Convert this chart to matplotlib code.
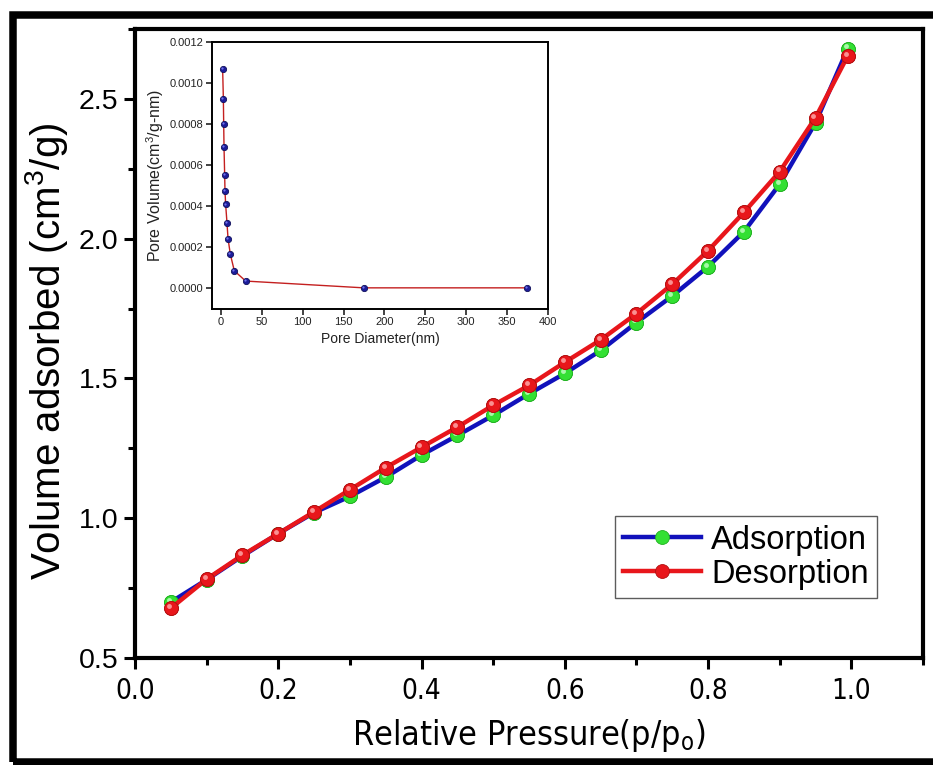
import matplotlib
matplotlib.use("Agg")
import matplotlib.pyplot as plt
from matplotlib import font_manager
from matplotlib.patches import Rectangle
from matplotlib.ticker import MultipleLocator, FormatStrFormatter
from matplotlib.transforms import offset_copy

plt.rcParams['font.family'] = ['Liberation Sans', 'DejaVu Sans']
plt.rcParams['mathtext.fontset'] = 'custom'
plt.rcParams['mathtext.rm'] = 'Liberation Sans'

# isotherm data
rel_pressure = [0.05, 0.10, 0.15, 0.20, 0.25, 0.30, 0.35, 0.40, 0.45, 0.50,
                0.55, 0.60, 0.65, 0.70, 0.75, 0.80, 0.85, 0.90, 0.95, 0.995]
adsorption = [0.70, 0.78, 0.865, 0.945, 1.02, 1.078, 1.147, 1.226, 1.296, 1.368,
              1.445, 1.518, 1.600, 1.700, 1.795, 1.900, 2.025, 2.195, 2.415, 2.68]
desorption = [0.678, 0.782, 0.868, 0.945, 1.023, 1.102, 1.181, 1.254, 1.326, 1.404,
              1.475, 1.558, 1.638, 1.732, 1.837, 1.957, 2.094, 2.240, 2.433, 2.654]

# pore size distribution (inset)
pore_diam = [2.0, 2.9, 3.3, 3.7, 4.5, 4.9, 5.7, 7.3, 8.6, 11.4, 16.3, 30.2, 174.6, 374.0]
pore_vol = [0.00107, 0.000924, 0.000800, 0.000689, 0.000551, 0.000474, 0.000409,
            0.000321, 0.000243, 0.000167, 0.000086, 0.000036, 0.000003, 0.000003]

# narrow font for the x axis if one is around
narrow_file = None
for f in font_manager.fontManager.ttflist:
    base = f.fname.split('/')[-1]
    if base in ('LiberationSansNarrow-Regular.ttf', 'DejaVuSansCondensed.ttf'):
        narrow_file = f.fname
        break
if narrow_file:
    def xfont(size):
        return font_manager.FontProperties(fname=narrow_file, size=size)
else:
    def xfont(size):
        return font_manager.FontProperties(family='Liberation Sans', size=size)

fig = plt.figure(figsize=(9.33, 7.65), dpi=100)

# black outer frame
fig.patches.append(Rectangle((13 / 933, 3 / 765), 940 / 933, (762 - 14.5) / 765,
                             transform=fig.transFigure, fill=False,
                             edgecolor='black', linewidth=5.4))

ax = fig.add_axes([135 / 933, 1 - 658 / 765, 788 / 933, 629 / 765])


def balls(axis, x, y, ms, face, edge, light, z):
    axis.plot(x, y, 'o', ms=ms, mfc=face, mec=edge, mew=0.6, zorder=z)
    hl = offset_copy(axis.transData, fig=fig, x=-ms * 0.15, y=ms * 0.15, units='points')
    axis.plot(x, y, 'o', ms=ms * 0.35, mfc=light, mec='none', alpha=0.8,
              transform=hl, zorder=z + 0.1)


ax.plot(rel_pressure, adsorption, '-', color='#1111bb', lw=3.2, zorder=3,
        marker='o', ms=10, mfc='#33e033', mec='#22b022', mew=0.6,
        label='Adsorption')
balls(ax, rel_pressure, adsorption, 10, '#33e033', '#22b022', '#c8ffc8', 3.5)
ax.plot(rel_pressure, desorption, '-', color='#e8161b', lw=3.2, zorder=4,
        marker='o', ms=10, mfc='#e8161b', mec='#b01010', mew=0.6,
        label='Desorption')
balls(ax, rel_pressure, desorption, 10, '#e8161b', '#b01010', '#ffb0b0', 4.5)

ax.set_xlim(0, 1.1)
ax.set_ylim(0.5, 2.75)
ax.xaxis.set_major_locator(MultipleLocator(0.2))
ax.xaxis.set_minor_locator(MultipleLocator(0.1))
ax.yaxis.set_major_locator(MultipleLocator(0.5))
ax.yaxis.set_minor_locator(MultipleLocator(0.25))
ax.xaxis.set_major_formatter(FormatStrFormatter('%.1f'))
ax.yaxis.set_major_formatter(FormatStrFormatter('%.1f'))
for s in ax.spines.values():
    s.set_linewidth(3)
ax.tick_params(which='major', direction='out', length=8, width=2.2)
ax.tick_params(which='minor', direction='out', length=5, width=2.2)
ax.tick_params(axis='y', labelsize=20.5, pad=4)
ax.tick_params(axis='x', pad=6)
for t in ax.get_xticklabels():
    t.set_fontproperties(xfont(20))

ax.set_xlabel(r'Relative Pressure(p/p$_\mathregular{o}$)',
              fontproperties=xfont(24.5), labelpad=8)
ax.set_ylabel(r'Volume adsorbed (cm$^\mathregular{3}$/g)', fontsize=29, labelpad=6)
ax.yaxis.set_label_coords(-0.082, 0.488)

leg = ax.legend(loc='lower right', bbox_to_anchor=(0.9416, 0.0954), borderaxespad=0,
                fontsize=23.5, frameon=True, fancybox=False, edgecolor='#333333',
                handlelength=2.4, handletextpad=0.3, labelspacing=0.1,
                borderpad=0.25)
leg.get_frame().set_linewidth(1.0)

# inset: pore size distribution
ins = fig.add_axes([212 / 933, 1 - 309 / 765, 336 / 933, 267 / 765])
ins.plot(pore_diam, pore_vol, '-', color='#c42020', lw=1.0, zorder=2)
balls(ins, pore_diam, pore_vol, 4.5, '#1c1c9a', '#10105a', '#8a8aff', 3)
ins.set_xlim(-11, 400)
ins.set_ylim(-0.0001, 0.0012)
ins.xaxis.set_major_locator(MultipleLocator(50))
ins.yaxis.set_major_locator(MultipleLocator(0.0002))
ins.yaxis.set_major_formatter(FormatStrFormatter('%.4f'))
for s in ins.spines.values():
    s.set_linewidth(1.4)
ins.tick_params(direction='out', length=4, width=1.2, labelsize=8, pad=2,
                colors='#222222')
ins.set_xlabel('Pore Diameter(nm)', fontsize=10, labelpad=3, color='#222222')
ins.set_ylabel(r'Pore Volume(cm$^\mathregular{3}$/g-nm)', fontsize=11.5, labelpad=3,
               color='#222222')

fig.savefig('out.png', dpi=100)
